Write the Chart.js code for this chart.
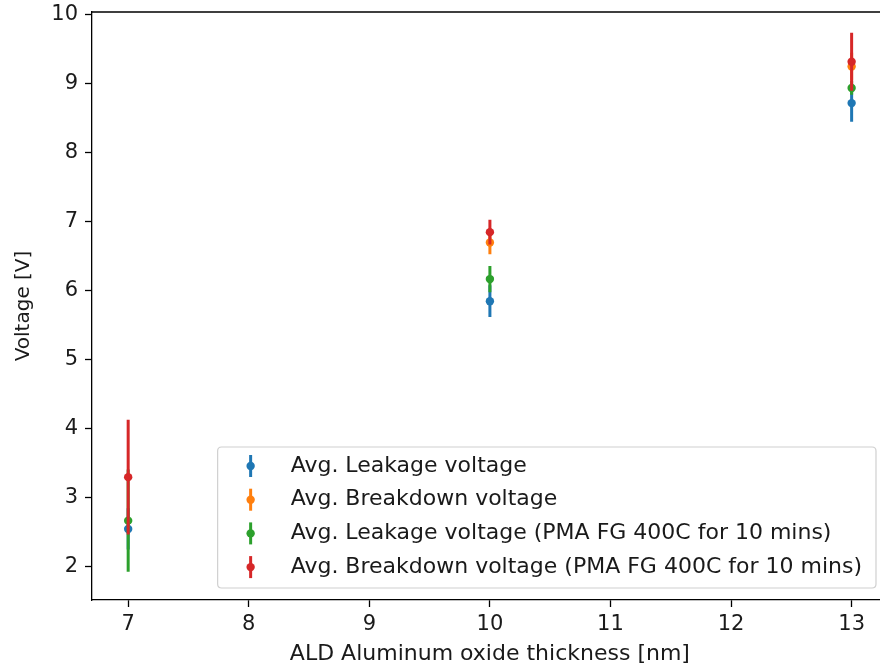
<!DOCTYPE html>
<html>
<head>
<meta charset="utf-8">
<script src="https://cdn.jsdelivr.net/npm/chart.js@4.4.1/dist/chart.umd.min.js"></script>
<style>
  html, body { margin: 0; padding: 0; background: #fff; overflow: hidden; }
  #wrap { position: relative; width: 892px; height: 672px; }
</style>
</head>
<body>
<div id="wrap"><canvas id="c"></canvas></div>
<script>
// ---- data ----
const thickness = [7, 10, 13];
const xTicks = [7, 8, 9, 10, 11, 12, 13];
const yTicks = [2, 3, 4, 5, 6, 7, 8, 9, 10];

const seriesLabels = [
  'Avg. Leakage voltage',
  'Avg. Breakdown voltage',
  'Avg. Leakage voltage (PMA FG 400C for 10 mins)',
  'Avg. Breakdown voltage (PMA FG 400C for 10 mins)'
];
const leakage = [2.54, 5.84, 8.71];
const leakageErr = [0.30, 0.23, 0.27];
const breakdown = [null, 6.69, 9.24];
const breakdownErr = [null, 0.17, 0.20];
const leakagePMA = [2.66, 6.16, 8.93];
const leakagePMAErr = [0.74, 0.19, 0.10];
const breakdownPMA = [3.29, 6.84, 9.31];
const breakdownPMAErr = [0.83, 0.18, 0.42];

const colors = ['#1f77b4', '#ff7f0e', '#2ca02c', '#d62728'];
const values = [leakage, breakdown, leakagePMA, breakdownPMA];
const errors = [leakageErr, breakdownErr, leakagePMAErr, breakdownPMAErr];

const FONT = "'DejaVu Sans', sans-serif";
const TXT = '#1a1a1a';

const datasets = values.map((vals, i) => ({
  label: seriesLabels[i],
  data: thickness.map((x, j) => vals[j] == null ? null : ({x: x, y: vals[j]})).filter(p => p),
  errs: thickness.map((x, j) => ({x: x, y: vals[j], e: errors[i][j]})).filter(p => p.y != null),
  backgroundColor: colors[i],
  borderColor: colors[i],
  pointRadius: 4.2,
  pointBorderWidth: 0,
  showLine: false,
  order: values.length - 1 - i
}));

const errorBarPlugin = {
  id: 'errorBars',
  beforeDatasetDraw(chart, args) {
    const ds = chart.data.datasets[args.index];
    const xs = chart.scales.x, ys = chart.scales.y;
    const ctx = chart.ctx;
    ctx.save();
    ctx.beginPath();
    ctx.rect(chart.chartArea.left, chart.chartArea.top, chart.chartArea.right - chart.chartArea.left, chart.chartArea.bottom - chart.chartArea.top);
    ctx.clip();
    ctx.strokeStyle = ds.borderColor;
    ctx.lineWidth = 3;
    ctx.lineCap = 'butt';
    ds.errs.forEach(p => {
      const px = xs.getPixelForValue(p.x);
      ctx.beginPath();
      ctx.moveTo(px, ys.getPixelForValue(p.y - p.e));
      ctx.lineTo(px, ys.getPixelForValue(p.y + p.e));
      ctx.stroke();
    });
    ctx.restore();
  }
};

const framePlugin = {
  id: 'frame',
  afterDraw(chart) {
    const {ctx, chartArea: a} = chart;
    ctx.save();
    ctx.strokeStyle = '#000';
    ctx.lineWidth = 1.3;
    ctx.beginPath();
    ctx.moveTo(a.left, a.top);
    ctx.lineTo(a.right, a.top);
    ctx.lineTo(a.right, a.bottom);
    ctx.stroke();
    ctx.restore();
  }
};

const legendPlugin = {
  id: 'mplLegend',
  afterDraw(chart) {
    const {ctx, chartArea: a} = chart;
    const dsets = chart.data.datasets;
    ctx.save();
    ctx.font = '22px ' + FONT;
    let maxW = 0;
    dsets.forEach(d => { maxW = Math.max(maxW, ctx.measureText(d.label).width); });
    const rowH = 33.7;
    const textOff = 73;
    const w = textOff + maxW + 14;
    const h = 141;
    const right = 876;
    const bottom = a.bottom - 12;
    const left = right - w, top = bottom - h;
    const r = 4;
    ctx.beginPath();
    ctx.moveTo(left + r, top);
    ctx.lineTo(left + w - r, top);
    ctx.quadraticCurveTo(left + w, top, left + w, top + r);
    ctx.lineTo(left + w, top + h - r);
    ctx.quadraticCurveTo(left + w, top + h, left + w - r, top + h);
    ctx.lineTo(left + r, top + h);
    ctx.quadraticCurveTo(left, top + h, left, top + h - r);
    ctx.lineTo(left, top + r);
    ctx.quadraticCurveTo(left, top, left + r, top);
    ctx.closePath();
    ctx.fillStyle = 'rgba(255,255,255,0.8)';
    ctx.fill();
    ctx.strokeStyle = '#d0d0d0';
    ctx.lineWidth = 1.2;
    ctx.stroke();
    dsets.forEach((d, i) => {
      const cy = top + 19 + i * rowH;
      const mx = left + 33;
      ctx.strokeStyle = d.borderColor;
      ctx.lineWidth = 3;
      ctx.beginPath();
      ctx.moveTo(mx, cy - 11);
      ctx.lineTo(mx, cy + 11);
      ctx.stroke();
      ctx.fillStyle = d.backgroundColor;
      ctx.beginPath();
      ctx.arc(mx, cy, 4.2, 0, Math.PI * 2);
      ctx.fill();
      ctx.fillStyle = TXT;
      ctx.textBaseline = 'middle';
      ctx.textAlign = 'left';
      ctx.fillText(d.label, left + textOff, cy);
    });
    ctx.restore();
  }
};

new Chart(document.getElementById('c'), {
  type: 'scatter',
  data: { datasets: datasets },
  plugins: [errorBarPlugin, framePlugin, legendPlugin],
  options: {
    responsive: true,
    maintainAspectRatio: false,
    animation: false,
    events: [],
    layout: { padding: { top: 12, right: 3, left: 0, bottom: 0 } },
    plugins: { legend: { display: false }, tooltip: { enabled: false } },
    scales: {
      x: {
        type: 'linear',
        min: 6.7, max: 13.3,
        afterFit(s) { s.height = 72; s.paddingLeft = 0; s.paddingRight = 0; },
        afterBuildTicks(s) { s.ticks = xTicks.map(v => ({value: v})); },
        grid: { display: true, drawOnChartArea: false, drawTicks: true, tickLength: 7, tickWidth: 1.3, tickColor: '#000' },
        border: { display: true, color: '#000', width: 1.3 },
        ticks: { color: TXT, font: { family: FONT, size: 21 }, padding: 5, maxRotation: 0, autoSkip: false },
        title: { display: true, text: 'ALD Aluminum oxide thickness [nm]', color: TXT, font: { family: FONT, size: 22 }, padding: { top: 0, bottom: 5 } }
      },
      y: {
        type: 'linear',
        min: 1.51, max: 10.03,
        afterFit(s) { s.width = 92; s.paddingTop = 0; s.paddingBottom = 0; },
        afterBuildTicks(s) { s.ticks = yTicks.map(v => ({value: v})); },
        grid: { display: true, drawOnChartArea: false, drawTicks: true, tickLength: 7, tickWidth: 1.3, tickColor: '#000' },
        border: { display: true, color: '#000', width: 1.3 },
        ticks: { color: TXT, font: { family: FONT, size: 21 }, padding: 7 },
        title: { display: true, text: 'Voltage [V]', color: TXT, font: { family: FONT, size: 20 }, padding: { top: 12, bottom: 0 } }
      }
    }
  }
});
</script>
</body>
</html>
